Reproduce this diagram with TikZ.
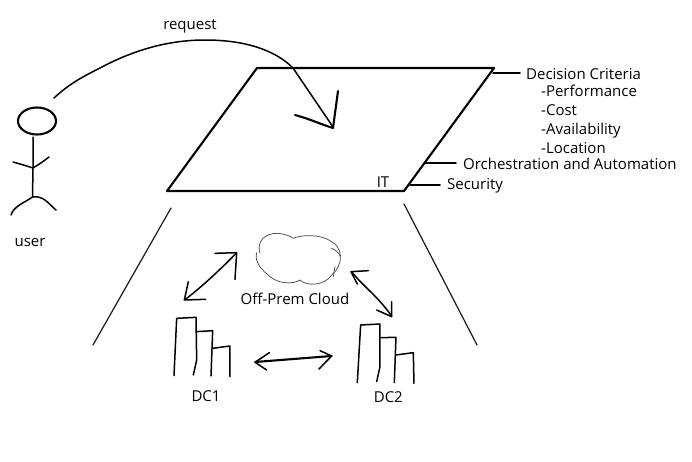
\documentclass[tikz,border=0pt]{standalone}
\usepackage{fontspec}
\usetikzlibrary{shapes.geometric}
\setmainfont{Open Sans}
\tikzset{
  thick line/.style={line width=2.1pt,black,line cap=round,line join=round},
  mid line/.style={line width=1.5pt,black,line cap=round,line join=round},
  thin line/.style={line width=1.2pt,black!90,line cap=round,line join=round},
  cloud line/.style={line width=.75pt,black!70,line cap=round,line join=round},
  lab/.style={inner sep=0pt,yshift=-2pt,font=\fontsize{15}{16}\selectfont,text=black,text height=10pt,text depth=3pt},
  labl/.style={lab,anchor=west},
}
\begin{document}
\begin{tikzpicture}[x=1pt,y=-1pt]
\useasboundingbox (0,0) rectangle (692,461);
% IT plane
\coordinate (tl) at (257,68);
\coordinate (tr) at (494,68);
\coordinate (br) at (404,191);
\coordinate (bl) at (167,191);
\draw[thick line] (tl) -- (tr) -- (br) -- (bl) -- cycle;
% user
\node[draw,ellipse,line width=2.1pt,minimum width=38pt,minimum height=27pt,inner sep=0pt] (head) at (37,121) {};
\coordinate (hip) at (32.5,197);
\coordinate (chest) at (33,168);
\coordinate (reqstart) at (54,98);
\coordinate (reqtip) at (333,127);
\draw[mid line] (33,137) -- (chest) -- (hip);
\draw[mid line] (13,162) .. controls (20,164) and (27,166) .. (chest) .. controls (38,165) and (44,161) .. (49,157);
\draw[mid line] (11,215) .. controls (14,206) and (24,203) .. (hip) .. controls (43,195) and (49,204) .. (56,210);
% request
\draw[mid line] (reqstart) .. controls (68,85) and (80,78) .. (100,68) .. controls (130,52) and (165,40) .. (205,40)
  .. controls (245,40) and (275,50) .. (293,68) -- (reqtip);
\draw[thick line] (295,115) .. controls (310,119) and (320,124) .. (333,128) -- (338,91);
% side connectors
\coordinate (c1) at (493,73); \coordinate (c2) at (425,163); \coordinate (c3) at (410,185);
\node[labl] (dc) at (526,74) {Decision Criteria};
\node[labl] at (541,91) (p1) {-Performance};
\node[labl] at (541,110) (p2) {-Cost};
\node[labl] at (541,129) (p3) {-Availability};
\node[labl] at (541,148) (p4) {-Location};
\node[labl] (oa) at (463,164) {Orchestration and Automation};
\node[labl] (se) at (447,184) {Security};
\draw[mid line] (c1) -- (520,73);
\draw[mid line] (c2) -- (456,163);
\draw[mid line] (c3) -- (440,185);
\node[lab] (it) at (383,182) {IT};
\node[lab] (req) at (190,24) {request};
\node[lab] (usr) at (30,241) {user};
% funnel
\draw[thin line] (171,208) -- (93,345);
\draw[thin line] (404,204) -- (477,345);
% lower part, in zoom coordinates
\begin{scope}[shift={(150,220)},x=.3333pt,y=-.3333pt]
  \draw[cloud line] (330,100) .. controls (318,60) and (350,38) .. (385,40) .. controls (405,42) and (425,50) .. (430,55)
    .. controls (450,45) and (510,40) .. (545,65) .. controls (575,80) and (585,130) .. (545,165)
    .. controls (525,197) and (470,200) .. (450,180) .. controls (425,195) and (385,190) .. (360,170)
    .. controls (335,150) and (312,125) .. (320,98);
  \draw[cloud line] (545,85) .. controls (558,90) and (566,98) .. (570,108);
  \draw[cloud line] (555,140) -- (550,170);
  \node[lab] (opc) at (435,237) {Off-Prem Cloud};
  \node[lab] (dc1) at (168,528) {DC1};
  \node[lab] (dc2) at (715,530) {DC2};
  % DC1 bars
  \draw[mid line] (72,467) -- (80,295) -- (138,292) -- (140,420) -- (130,465);
  \draw[mid line] (140,335) -- (188,332) -- (183,468);
  \draw[mid line] (188,385) -- (240,378) -- (240,470);
  % DC2 bars
  \draw[mid line] (622,488) -- (632,315) -- (690,312) -- (690,440) -- (680,485);
  \draw[mid line] (692,353) -- (738,352) -- (733,488);
  \draw[mid line] (738,405) -- (790,398) -- (792,490);
  % arrows
  \coordinate (a1) at (106,238); \coordinate (a2) at (258,100);
  \draw[mid line] (a1) .. controls (150,205) and (210,150) .. (a2);
  \draw[mid line] (195,100) -- (260,98) -- (255,178);
  \draw[mid line] (115,185) -- (103,240) -- (167,238);
  \coordinate (b1) at (605,155); \coordinate (b2) at (725,288);
  \draw[mid line] (b1) .. controls (640,200) and (680,225) .. (b2);
  \draw[mid line] (655,152) -- (603,155) -- (622,192);
  \draw[mid line] (680,270) -- (725,290) -- (725,245);
  \coordinate (d1) at (316,426); \coordinate (d2) at (545,408);
  \draw[thick line] (d1) -- (d2);
  \draw[mid line] (358,398) -- (315,427) -- (350,450);
  \draw[mid line] (510,392) -- (545,408) -- (507,447);
\end{scope}
\end{tikzpicture}
\end{document}
